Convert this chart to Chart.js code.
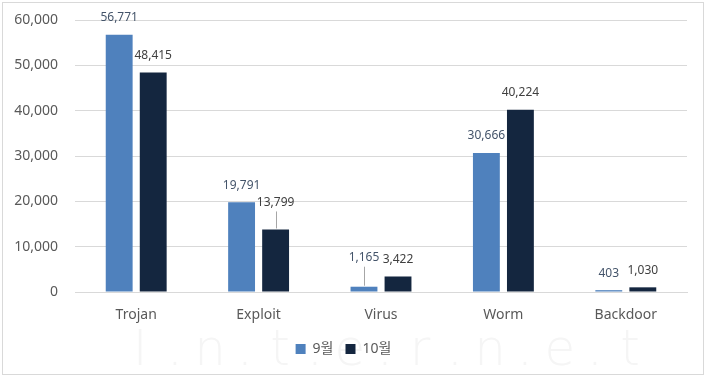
<!DOCTYPE html>
<html><head><meta charset="utf-8">
<script src="https://cdn.jsdelivr.net/npm/chart.js@4"></script>
<style>html,body{margin:0;padding:0;background:#fff;}#wrap{width:707px;height:378px;position:relative;}</style>
</head><body><div id="wrap"><canvas id="c" width="707" height="378"></canvas></div>
<script>
const categories = ['Trojan', 'Exploit', 'Virus', 'Worm', 'Backdoor'];
const seriesNames = ['9월', '10월'];
const sep = [56771, 19791, 1165, 30666, 403];
const oct = [48415, 13799, 3422, 40224, 1030];
const yTicks = [0, 10000, 20000, 30000, 40000, 50000, 60000];

const FONT = "'Noto Sans', 'Noto Sans CJK KR', sans-serif";
// extra label lift (pixels) for labels with leader lines
const labelLift = {'0-2': 12, '1-1': 10};

const fmt = v => v.toLocaleString('en-US');

const deco = {
  id: 'deco',
  beforeDraw(chart) {
    const ctx = chart.ctx;
    ctx.save();
    ctx.fillStyle = '#fff';
    ctx.fillRect(0, 0, chart.width, chart.height);
    ctx.strokeStyle = '#d9d9d9';
    ctx.lineWidth = 1;
    ctx.strokeRect(2.5, 2.5, 701, 372);
    ctx.fillStyle = '#f5f5f5';
    ctx.font = "300 50px 'DejaVu Sans', sans-serif";
    ctx.textBaseline = 'middle';
    ctx.textAlign = 'center';
    const letters = ['I', '.', 'n', '.', 't', '.', 'e', '.', 'r', '.', 'n', '.', 'e', '.', 't'];
    letters.forEach((l, i) => ctx.fillText(l, 140 + i * 35, 352));
    ctx.restore();
  },
  afterDatasetsDraw(chart) {
    const ctx = chart.ctx;
    ctx.save();
    ctx.font = "12px " + FONT;
    ctx.textAlign = 'center';
    ctx.textBaseline = 'middle';
    chart.data.datasets.forEach((ds, di) => {
      const meta = chart.getDatasetMeta(di);
      meta.data.forEach((bar, i) => {
        const lift = labelLift[di + '-' + i] || 0;
        const y = bar.y - 17 - lift;
        if (lift) {
          ctx.strokeStyle = '#a6a6a6';
          ctx.lineWidth = 1;
          ctx.beginPath();
          ctx.moveTo(Math.round(bar.x) + 0.5, y + 9);
          ctx.lineTo(Math.round(bar.x) + 0.5, bar.y - 1);
          ctx.stroke();
        }
        ctx.fillStyle = di === 0 ? '#44546a' : '#404040';
        ctx.fillText(fmt(ds.data[i]), bar.x, y);
      });
    });
    ctx.restore();
  }
};

new Chart(document.getElementById('c'), {
  type: 'bar',
  data: {
    labels: categories,
    datasets: [
      {label: seriesNames[0], data: sep, backgroundColor: '#4f81bd', categoryPercentage: 0.556, barPercentage: 0.79},
      {label: seriesNames[1], data: oct, backgroundColor: '#14263f', categoryPercentage: 0.556, barPercentage: 0.79}
    ]
  },
  options: {
    responsive: false,
    animation: false,
    layout: {padding: {left: 0, right: 20, top: 20, bottom: 12}},
    plugins: {
      legend: {
        position: 'bottom',
        labels: {boxWidth: 10, boxHeight: 10, padding: 12, color: '#595959', font: {family: FONT, size: 14}}
      },
      tooltip: {enabled: false}
    },
    scales: {
      x: {
        grid: {display: false, drawTicks: false},
        border: {display: true, color: '#d9d9d9'},
        ticks: {color: '#595959', font: {family: FONT, size: 14}, padding: 15},
        afterFit(s) { s.height = 38; }
      },
      y: {
        min: 0, max: 60000,
        afterBuildTicks(s) { s.ticks = yTicks.map(v => ({value: v})); },
        grid: {color: '#d9d9d9', drawTicks: false},
        border: {display: false},
        ticks: {color: '#595959', font: {family: FONT, size: 14}, padding: 17, callback: v => fmt(v)},
        afterFit(s) { s.width = 75; s.paddingTop = 0; s.paddingBottom = 0; }
      }
    }
  },
  plugins: [deco]
});
</script></body></html>
